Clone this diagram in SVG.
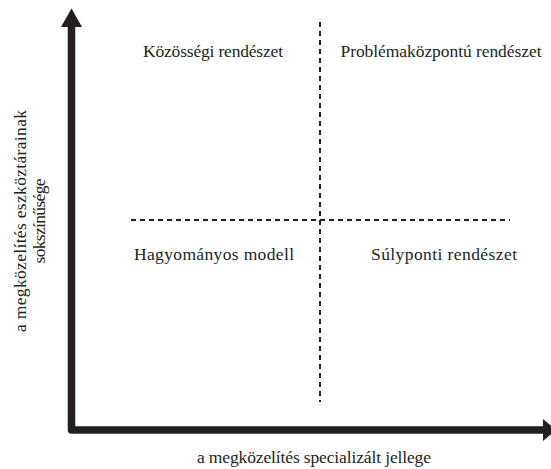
<svg xmlns="http://www.w3.org/2000/svg" width="551" height="469" viewBox="0 0 551 469">
<style>
.ax{fill:none;stroke:#231f20;stroke-width:7.5;stroke-linejoin:round}
.dash{fill:none;stroke:#231f20;stroke-width:2;stroke-dasharray:5 4}
.t{font-family:'Liberation Serif',serif;font-size:17.5px;fill:#231f20;text-anchor:middle}
</style>
<rect width="551" height="469" fill="#fff"/>
<g id="connectors">
<path class="ax" d="M71.5,26 V430 H544"/>
<polygon points="61,27 71.5,8.5 82,27" fill="#231f20"/>
<polygon points="543,419 556,430 543,441" fill="#231f20"/>
<line class="dash" x1="320" y1="22" x2="320" y2="402"/>
<line class="dash" x1="131" y1="220" x2="510" y2="220"/>
</g>
<g id="q1"><text class="t" x="213" y="57" textLength="140" lengthAdjust="spacing">Közösségi rendészet</text></g>
<g id="q2"><text class="t" x="441" y="57" textLength="201" lengthAdjust="spacing">Problémaközpontú rendészet</text></g>
<g id="q3"><text class="t" x="214" y="260" textLength="160" lengthAdjust="spacing">Hagyományos modell</text></g>
<g id="q4"><text class="t" x="444" y="260" textLength="146" lengthAdjust="spacing">Súlyponti rendészet</text></g>
<g id="xlabel"><text class="t" x="314" y="463" textLength="234" lengthAdjust="spacing">a megközelítés specializált jellege</text></g>
<g id="ylabel">
<text class="t" transform="translate(26,221) rotate(-90)" textLength="222" lengthAdjust="spacing">a megközelítés eszköztárainak</text>
<text class="t" transform="translate(45,221) rotate(-90)" textLength="85" lengthAdjust="spacing">sokszínűsége</text>
</g>
</svg>
